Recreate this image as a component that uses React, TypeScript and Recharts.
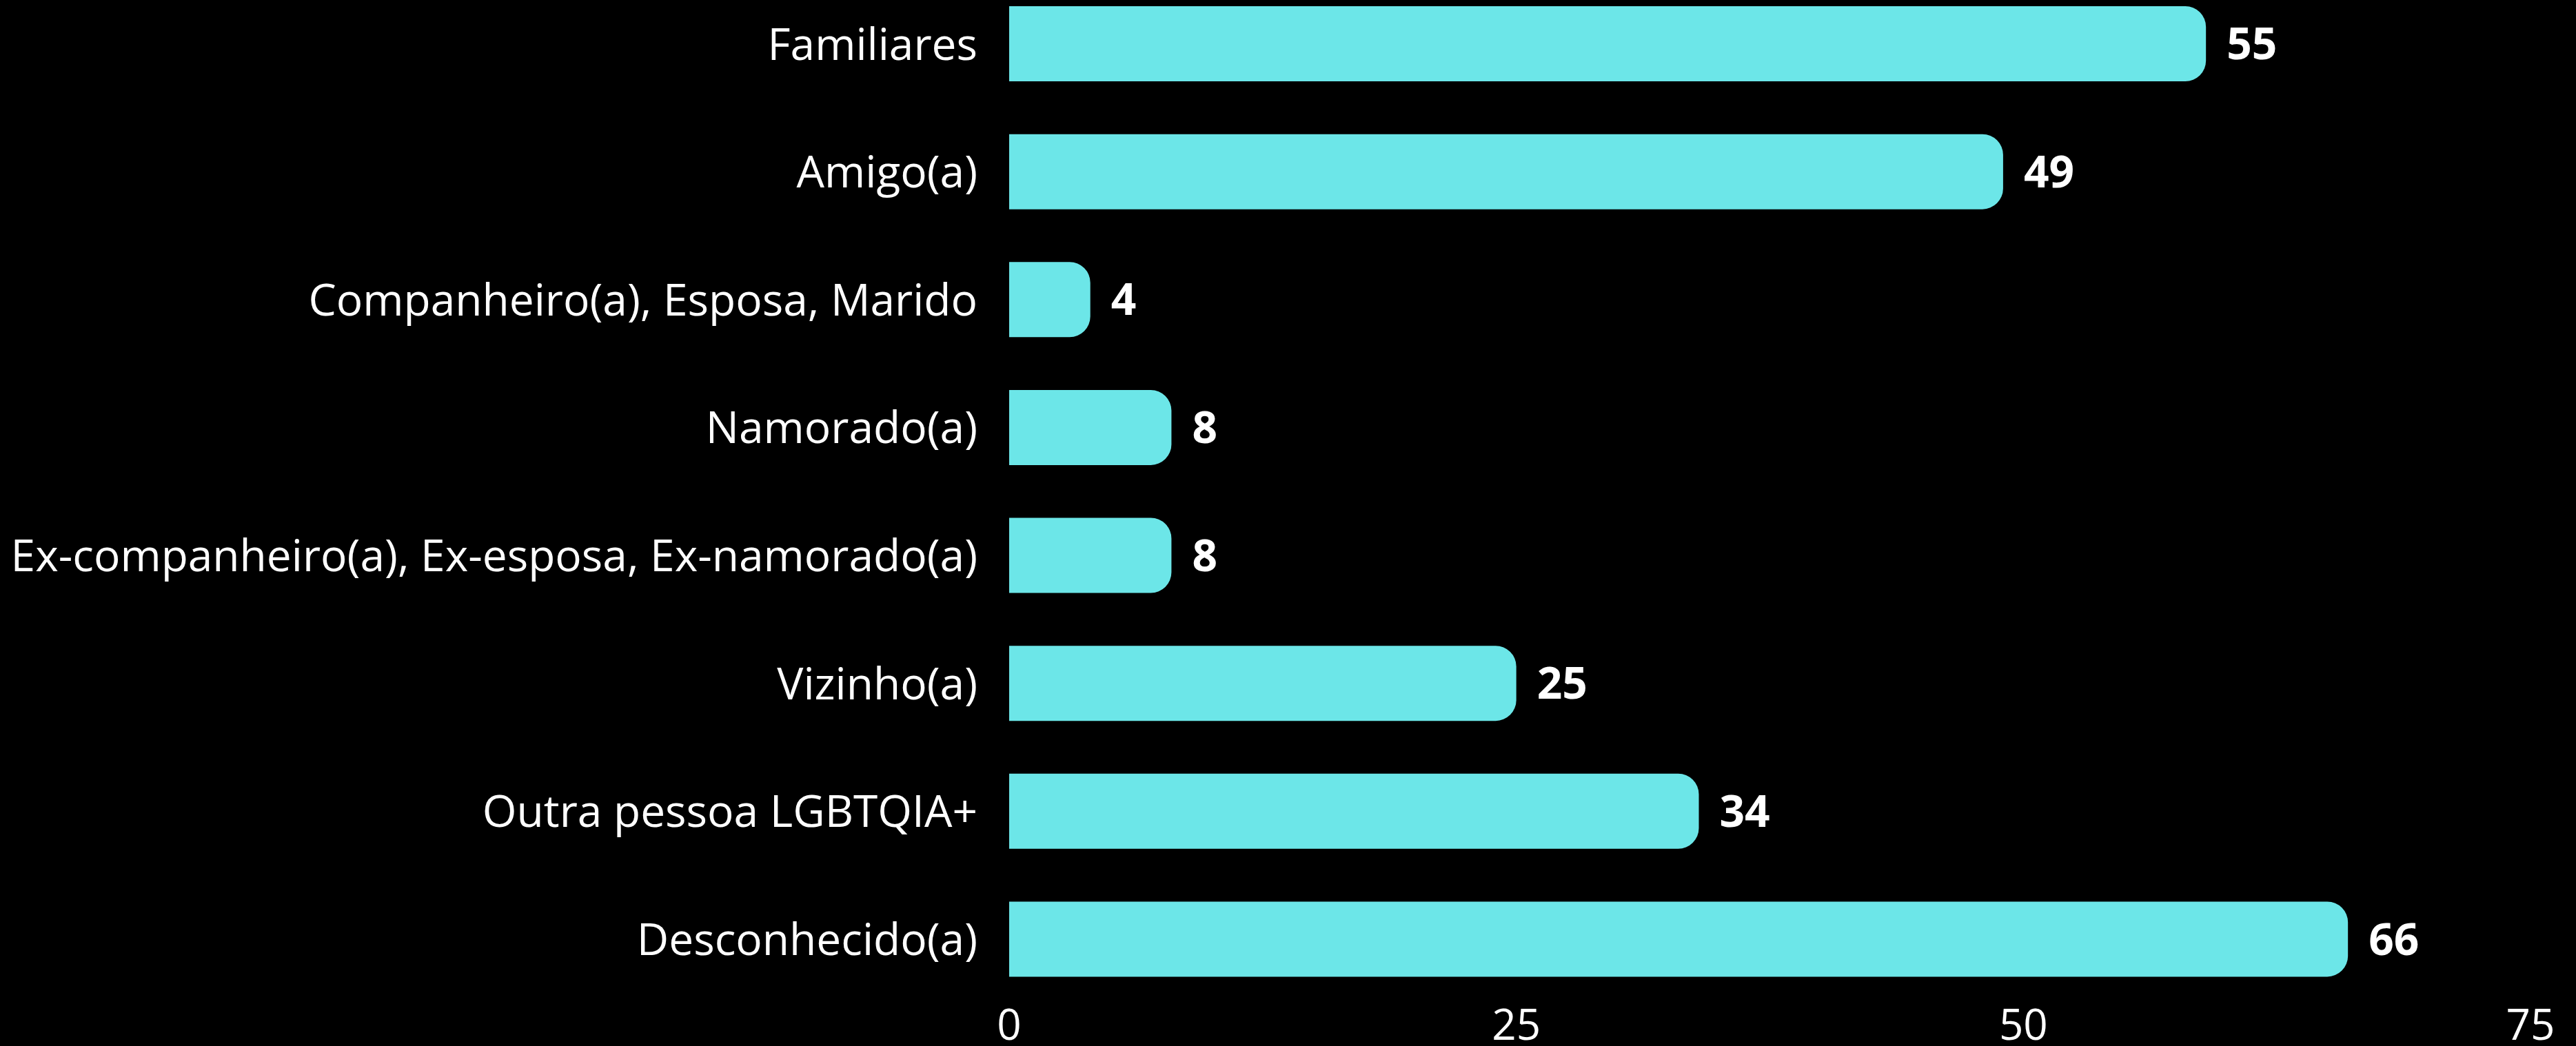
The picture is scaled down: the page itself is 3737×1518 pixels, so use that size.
import { Bar, BarChart, LabelList, XAxis, YAxis } from "recharts";

const categories = [
  "Familiares",
  "Amigo(a)",
  "Companheiro(a), Esposa, Marido",
  "Namorado(a)",
  "Ex-companheiro(a), Ex-esposa, Ex-namorado(a)",
  "Vizinho(a)",
  "Outra pessoa LGBTQIA+",
  "Desconhecido(a)",
];

// bar lengths as drawn in the picture
const barValues = [59, 49, 4, 8, 8, 25, 34, 66];

// numbers printed next to each bar
const valueLabels = ["55", "49", "4", "8", "8", "25", "34", "66"];

const xTicks = [0, 25, 50, 75];

const data = categories.map((name, i) => ({
  name,
  value: barValues[i],
  label: valueLabels[i],
}));

const FONT = "'Open Sans', sans-serif";

export default function App() {
  return (
    <div
      style={{
        position: "absolute",
        left: 0,
        top: 0,
        width: 3737,
        height: 1518,
        background: "#000000",
        fontFamily: FONT,
      }}
    >
      <BarChart
        width={3737}
        height={1518}
        data={data}
        layout="vertical"
        margin={{ top: -29, right: 66, bottom: 0, left: 0 }}
      >
        <XAxis
          type="number"
          domain={[0, 75]}
          ticks={xTicks}
          axisLine={false}
          tickLine={false}
          tickSize={0}
          tickMargin={9}
          height={62}
          tick={{ fill: "#ffffff", fontSize: 62, fontFamily: FONT }}
        />
        <YAxis
          type="category"
          dataKey="name"
          width={1464}
          axisLine={false}
          tickLine={false}
          tickSize={0}
          tickMargin={46}
          interval={0}
          tick={{ fill: "#ffffff", fontSize: 64, fontFamily: FONT }}
        />
        <Bar
          dataKey="value"
          fill="#6ce6e8"
          barSize={109}
          radius={[0, 30, 30, 0]}
          isAnimationActive={false}
        >
          <LabelList
            dataKey="label"
            position="right"
            offset={30}
            fill="#ffffff"
            fontSize={64}
            fontWeight={700}
            fontFamily={FONT}
          />
        </Bar>
      </BarChart>
    </div>
  );
}
